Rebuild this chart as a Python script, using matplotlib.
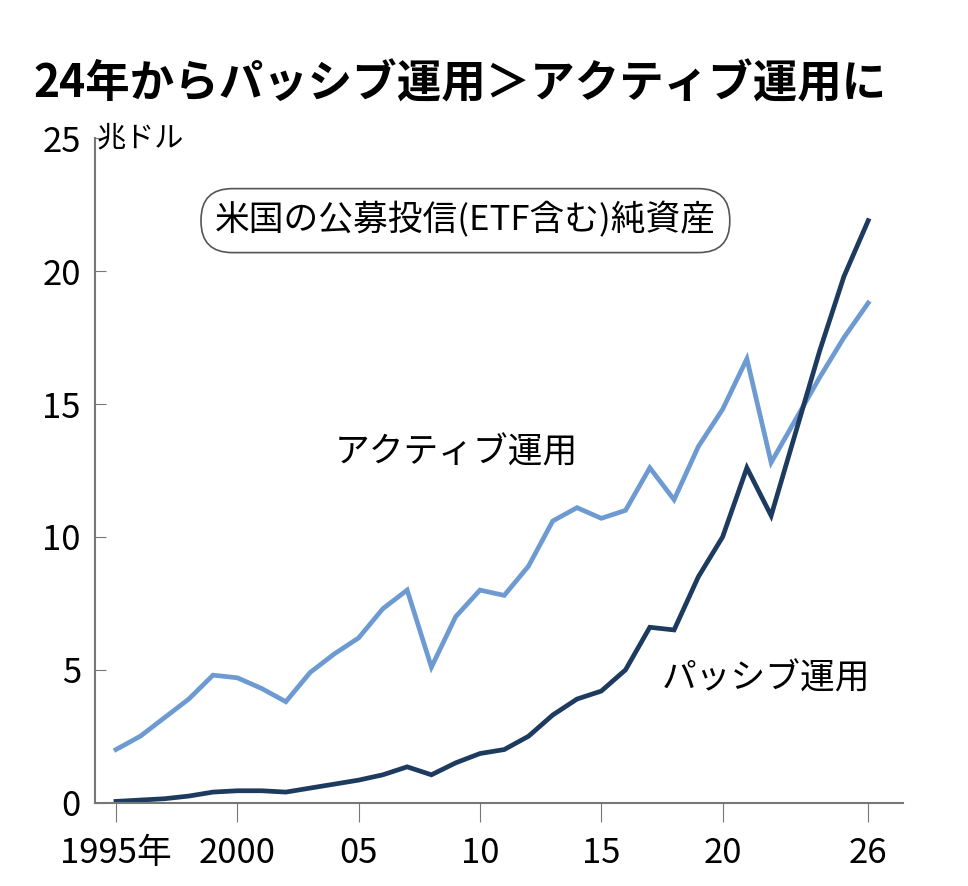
import matplotlib
matplotlib.use("Agg")
import matplotlib.pyplot as plt

plt.rcParams['font.family'] = ['Noto Sans CJK JP', 'DejaVu Sans']

years = list(range(1995, 2027))
active = [2.0,2.5,3.2,3.9,4.8,4.7,4.3,3.8,4.9,5.6,6.2,7.3,8.0,5.1,7.0,8.0,7.8,8.9,10.6,11.1,10.7,11.0,12.6,11.4,13.4,14.8,16.7,12.8,14.4,16.0,17.5,18.8]
passive = [0.05,0.1,0.15,0.25,0.4,0.45,0.45,0.4,0.55,0.7,0.85,1.05,1.35,1.05,1.5,1.85,2.0,2.5,3.3,3.9,4.2,5.0,6.6,6.5,8.5,10.0,12.6,10.8,13.9,17.0,19.8,21.9]
tick_years = [1995, 2000, 2005, 2010, 2015, 2020, 2026]
tick_labels = ['1995年', '2000', '05', '10', '15', '20', '26']
yticks = [0, 5, 10, 15, 20, 25]

fig = plt.figure(figsize=(9.68, 8.86), dpi=100)
ax = fig.add_axes([0.098, 0.094, 0.835, 0.75])
ax.plot(years, active, color='#6d9bd1', lw=3.4, solid_joinstyle='miter')
ax.plot(years, passive, color='#1d3a5f', lw=3.4, solid_joinstyle='miter')
ax.set_xlim(1994.13, 2027.44)
ax.set_ylim(0, 25)
ax.set_yticks(yticks)
ax.set_yticklabels([str(v) for v in yticks], fontsize=25)
ax.set_xticks(tick_years)
ax.set_xticklabels(tick_labels, fontsize=25)
for s in ['top', 'right']:
    ax.spines[s].set_visible(False)
ax.spines['left'].set_color('#777777')
ax.spines['bottom'].set_color('#777777')
ax.spines['left'].set_linewidth(1.5)
ax.spines['bottom'].set_linewidth(1.5)
ax.tick_params(axis='y', length=8, color='#777777', direction='in', pad=10)
ax.tick_params(axis='x', length=14, color='#777777', direction='out', pad=10)
ax.text(1994.2, 25, '兆ドル', fontsize=21, va='center', ha='left')
ax.text(2004.0, 12.8, 'アクティブ運用', fontsize=25, ha='left')
ax.text(2017.5, 4.3, 'パッシブ運用', fontsize=25, ha='left')
ax.text(2009.4, 21.9, '米国の公募投信(ETF含む)純資産', fontsize=25, ha='center', va='center',
        bbox=dict(boxstyle='round,pad=0.4,rounding_size=0.9', fc='white', ec='#555555', lw=1.2))
fig.text(0.035, 0.905, '24年からパッシブ運用＞アクティブ運用に', fontsize=32, fontweight='bold', ha='left', va='center')
fig.savefig('out.png', dpi=100)
